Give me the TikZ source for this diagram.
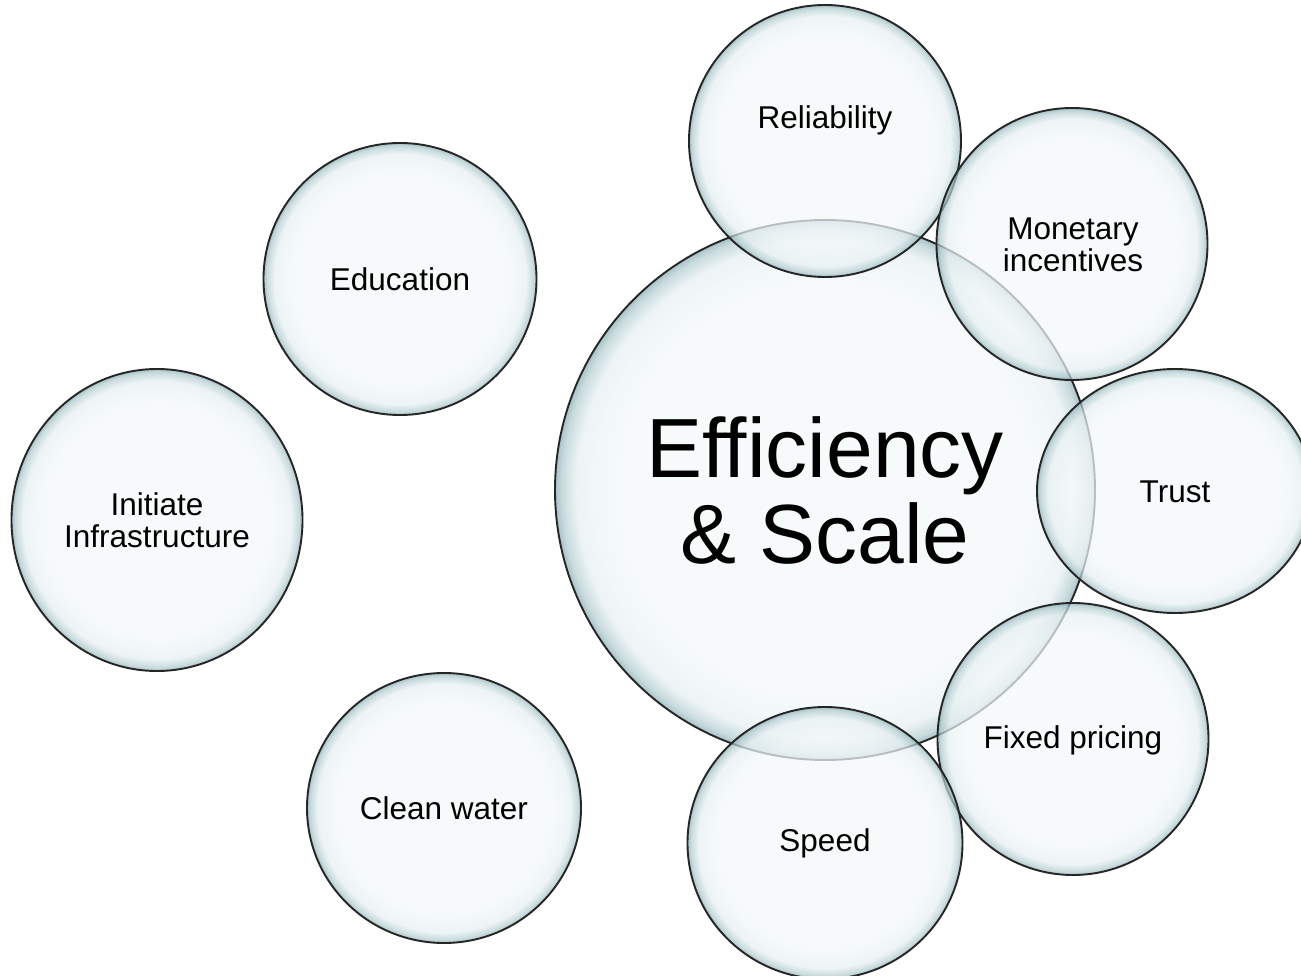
\documentclass[tikz,border=0pt]{standalone}
\usepackage{fontspec}
\setmainfont{Liberation Sans}
\usetikzlibrary{shapes.geometric}
\definecolor{bubin}{RGB}{244,249,250}
\definecolor{bubmid}{RGB}{232,241,243}
\definecolor{bubedge}{RGB}{180,205,209}
\definecolor{bubrim}{RGB}{135,172,178}
\pgfdeclareradialshading{bubbleshade}{\pgfpoint{0bp}{0bp}}{color(0bp)=(bubin); color(19bp)=(bubin); color(23bp)=(bubmid); color(24.4bp)=(bubedge); color(25bp)=(bubrim); color(50bp)=(bubrim)}
\tikzset{
  bubble/.style 2 args={ellipse, draw=black!85, line width=1.9pt, shading=bubbleshade,
    fill opacity=0.72, draw opacity=1, inner sep=0pt, minimum width=#1, minimum height=#2},
  lbl/.style={font=\fontsize{31.5}{31.5}\selectfont, align=center, text=black, inner sep=0pt},
  biglbl/.style={font=\fontsize{84}{88}\selectfont, align=center, text=black, inner sep=0pt}
}
\begin{document}
\begin{tikzpicture}[x=1pt,y=-1pt]
\useasboundingbox (0,0) rectangle (1301,976);
\fill[white] (0,0) rectangle (1301,976);
% centre
\node[bubble={540}{540}] (core) at (825,490) {};
% outer ring
\node[bubble={272}{272}] (rel) at (825,141) {};
\node[bubble={271}{272}] (mon) at (1072,244) {};
\node[bubble={276}{244}] (tru) at (1175,491) {};
\node[bubble={271}{272}] (fix) at (1073,739) {};
\node[bubble={275}{272}] (spe) at (825,843) {};
% left group
\node[bubble={273}{272}] (edu) at (400,279) {};
\node[bubble={291}{302}] (ini) at (157,520) {};
\node[bubble={274}{270}] (cle) at (444,808) {};
% labels
\node[biglbl] (coret) at (825,490) {Efficiency\\[-2pt]\& Scale};
\node[lbl] (relt) at (825,120) {Reliability};
\node[lbl] (mont) at (1073,245) {Monetary\\incentives};
\node[lbl] (trut) at (1175,492) {Trust};
\node[lbl] (fixt) at (1073,740) {Fixed pricing};
\node[lbl] (spet) at (825,843) {Speed};
\node[lbl] (edut) at (400,279) {Education};
\node[lbl] (init) at (157,520) {Initiate\\Infrastructure};
\node[lbl] (clet) at (444,808) {Clean water};
\end{tikzpicture}
\end{document}
